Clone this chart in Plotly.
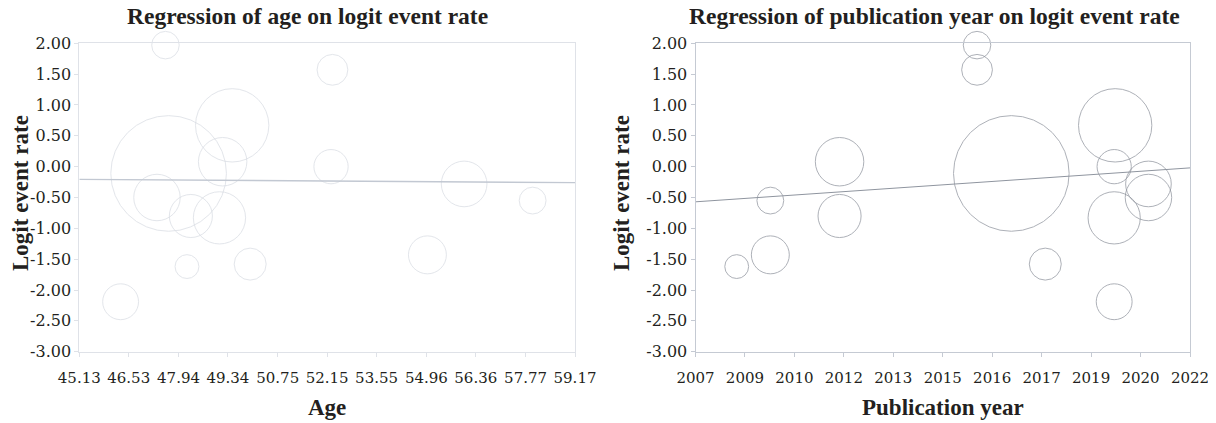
import plotly.graph_objects as go

# ---- data ----
logit = [1.97, 1.57, 0.67, -0.11, 0.08, 0.00, -0.50, -0.80, -0.83, -1.62, -1.58, -2.19, -1.43, -0.28, -0.55]
age = [47.57, 52.30, 49.46, 47.66, 49.19, 52.26, 47.33, 48.29, 49.10, 48.18, 49.97, 46.30, 54.99, 56.03, 57.97]
year = [2015.54, 2015.54, 2019.73, 2016.58, 2011.37, 2019.70, 2020.74, 2011.37, 2019.70, 2008.25, 2017.61, 2019.70, 2009.27, 2020.74, 2009.27]
weight = [2.0, 2.5, 14.2, 35.3, 6.2, 3.1, 5.7, 4.9, 7.2, 1.5, 2.7, 3.4, 3.8, 5.5, 1.9]  # relative weight (%)

age_ticks = [45.13, 46.53, 47.94, 49.34, 50.75, 52.15, 53.55, 54.96, 56.36, 57.77, 59.17]
year_tick_labels = ["2007", "2009", "2010", "2012", "2013", "2015", "2016", "2017", "2019", "2020", "2022"]
year_range = [2007, 2022]
y_ticks = [2.0, 1.5, 1.0, 0.5, 0.0, -0.5, -1.0, -1.5, -2.0, -2.5, -3.0]

# regression lines (values at the ends of each x axis)
age_line_x = [45.13, 59.17]
age_line_y = [-0.205, -0.26]
year_line_x = [2007, 2022]
year_line_y = [-0.57, -0.02]

# the page body has an 8px margin: the figure starts at (8, 8) of the window
OFF = 8
W, H = 1216 - OFF, 423 - OFF
TXT = "#231f20"
SERIF_B = "Liberation Serif"
SERIF = "DejaVu Serif"
SIZEREF = 0.00528

def px(X):
    return (X - OFF) / W

def py(Y):
    return 1 - (Y - OFF) / H

fig = go.Figure()

fig.add_trace(go.Scatter(
    x=age, y=logit, mode="markers", xaxis="x", yaxis="y", cliponaxis=False,
    marker=dict(size=weight, sizemode="area", sizeref=SIZEREF, color="rgba(0,0,0,0)",
                line=dict(color="#d8dce3", width=1)),
    hoverinfo="x+y", showlegend=False))
fig.add_trace(go.Scatter(
    x=age_line_x, y=age_line_y, mode="lines", xaxis="x", yaxis="y",
    line=dict(color="#c2c8d2", width=1.3), showlegend=False))

fig.add_trace(go.Scatter(
    x=year, y=logit, mode="markers", xaxis="x2", yaxis="y2", cliponaxis=False,
    marker=dict(size=weight, sizemode="area", sizeref=SIZEREF, color="rgba(0,0,0,0)",
                line=dict(color="#8c919b", width=1)),
    hoverinfo="x+y", showlegend=False))
fig.add_trace(go.Scatter(
    x=year_line_x, y=year_line_y, mode="lines", xaxis="x2", yaxis="y2",
    line=dict(color="#8f959f", width=1), showlegend=False))

year_tickvals = [year_range[0] + i * (year_range[1] - year_range[0]) / (len(year_tick_labels) - 1)
                 for i in range(len(year_tick_labels))]

def xaxis(domain, rng, tv, tt, col, anchor):
    return dict(domain=domain, range=rng, tickvals=tv, ticktext=tt, anchor=anchor,
                showgrid=False, zeroline=False, showline=True, linecolor=col, linewidth=1,
                mirror=True, ticks="outside", ticklen=4, tickcolor=col, automargin=False,
                tickfont=dict(family=SERIF, size=15, color=TXT), ticklabelstandoff=8)

def yaxis(domain, col, anchor):
    return dict(domain=domain, range=[-3, 2], tickvals=y_ticks,
                ticktext=[f"{v:.2f}" for v in y_ticks], anchor=anchor,
                showgrid=False, zeroline=False, showline=True, linecolor=col, linewidth=1,
                mirror=True, ticks="outside", ticklen=4, tickcolor=col, automargin=False,
                tickfont=dict(family=SERIF, size=16, color=TXT))

yd = [py(351.7), py(43.3)]
fig.update_layout(
    width=W, height=H, template="none",
    margin=dict(l=0, r=0, t=0, b=0),
    paper_bgcolor="white", plot_bgcolor="white",
    xaxis=xaxis([px(79.3), px(575)], [age_ticks[0], age_ticks[-1]], age_ticks,
                [f"{v:.2f}" for v in age_ticks], "#dfe2e8", "y"),
    yaxis=yaxis(yd, "#dfe2e8", "x"),
    xaxis2=xaxis([px(695.5), px(1190)], year_range, year_tickvals, year_tick_labels, "#c5cad3", "y2"),
    yaxis2=yaxis(yd, "#c5cad3", "x2"),
    showlegend=False,
)

def ann(text, x, y, size, angle=0):
    fig.add_annotation(text=f"<b>{text}</b>", x=px(x), y=py(y), xref="paper", yref="paper",
                       xanchor="center", yanchor="middle", showarrow=False, textangle=angle,
                       font=dict(family=SERIF_B, size=size, color=TXT))

ann("Regression of age on logit event rate", 307, 16, 23.5)
ann("Regression of publication year on logit event rate", 935, 16, 23.5)
ann("Logit event rate", 20, 193, 23, -90)
ann("Logit event rate", 621, 193, 23, -90)
ann("Age", 327, 407, 23)
ann("Publication year", 943, 407, 23)

fig.write_html("out.html")
